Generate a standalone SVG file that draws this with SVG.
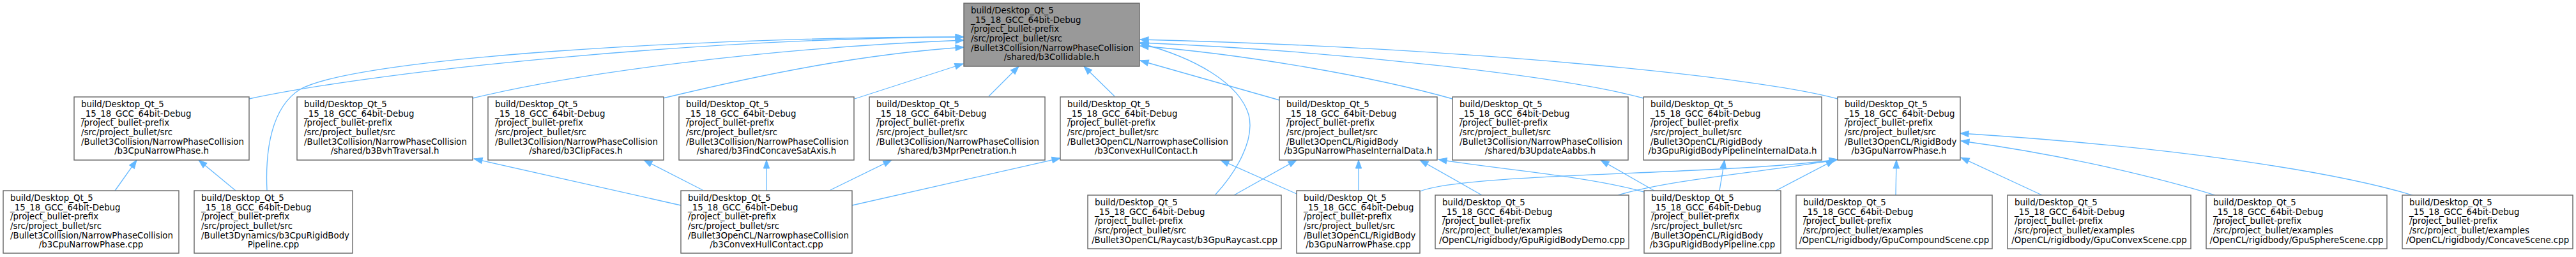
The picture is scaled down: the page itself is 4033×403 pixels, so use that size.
<svg xmlns="http://www.w3.org/2000/svg" width="4033" height="403" viewBox="0 0 4033 403">
<defs>
<style>
.n rect{fill:#ffffff;stroke:#666666;stroke-width:1.4}
.r rect{fill:#999999;stroke:#666666;stroke-width:1.4}
text{font-family:"DejaVu Sans","Liberation Sans",sans-serif;font-size:13.33px;fill:#000000}
.c{text-anchor:middle}
.e path{fill:none;stroke:#63b8ff;stroke-width:1.3;marker-end:url(#a)}
</style>
<marker id="a" markerUnits="userSpaceOnUse" markerWidth="14" markerHeight="10" refX="13" refY="4.7" orient="auto" overflow="visible">
<path d="M0,0 L13,4.7 L0,9.4 Z" fill="#63b8ff" stroke="#63b8ff" stroke-width="1"/>
</marker>
</defs>
<rect width="4033" height="403" fill="#ffffff"/>
<g class="e" id="edges">
<path d="M180,299 L214,251"/>
<path d="M369,299 L311,251"/>
<path d="M418,299 C415,235 425,168 470,140 C560,90 1100,58 1509,58"/>
<path d="M390,155 C600,110 1100,60 1509,58"/>
<path d="M740,154 C900,115 1200,75 1509,63"/>
<path d="M1038,154 C1200,115 1350,85 1509,74"/>
<path d="M1338,155 L1508,100"/>
<path d="M1548,151 L1595,104"/>
<path d="M1745,151 L1697,104"/>
<path d="M1903,305 C1935,270 1965,220 1955,180 C1940,130 1870,90 1785,68"/>
<path d="M2003,157 L1785,95"/>
<path d="M2274,155 C2150,120 1950,85 1785,72"/>
<path d="M2573,154 C2450,120 2100,80 1785,67"/>
<path d="M2877,155 C2750,120 2300,75 1785,62"/>
<path d="M1066,322 L742,249"/>
<path d="M1100,298 L1008,251"/>
<path d="M1200,299 L1200,251"/>
<path d="M1300,298 L1396,251"/>
<path d="M1334,322 L1660,248"/>
<path d="M2030,304 L1911,251"/>
<path d="M1932,306 L2030,251"/>
<path d="M2127,299 L2127,251"/>
<path d="M2320,306 L2223,251"/>
<path d="M2574,301 C2480,275 2340,265 2252,250"/>
<path d="M2590,299 L2506,251"/>
<path d="M2692,299 L2700,251"/>
<path d="M2223,300 C2300,270 2700,275 2877,250"/>
<path d="M2533,306 C2620,280 2780,268 2877,250"/>
<path d="M2780,299 L2872,251"/>
<path d="M2968,306 L2969,251"/>
<path d="M3197,306 L3070,247"/>
<path d="M3468,306 C3400,285 3250,245 3070,221"/>
<path d="M3777,306 C3650,268 3400,230 3069,209"/>
</g>
<g id="root" class="r"><rect x="1509" y="5" width="275" height="99"/><text><tspan x="1520" y="21">build/Desktop_Qt_5</tspan><tspan x="1520" y="35.7">_15_18_GCC_64bit-Debug</tspan><tspan x="1520" y="50.3">/project_bullet-prefix</tspan><tspan x="1520" y="65">/src/project_bullet/src</tspan><tspan x="1520" y="79.7">/Bullet3Collision/NarrowPhaseCollision</tspan><tspan class="c" x="1646.5" y="94.3">/shared/b3Collidable.h</tspan></text></g>
<g id="n1" class="n"><rect x="116" y="152" width="274" height="99"/><text><tspan x="127" y="168">build/Desktop_Qt_5</tspan><tspan x="127" y="182.7">_15_18_GCC_64bit-Debug</tspan><tspan x="127" y="197.3">/project_bullet-prefix</tspan><tspan x="127" y="212">/src/project_bullet/src</tspan><tspan x="127" y="226.7">/Bullet3Collision/NarrowPhaseCollision</tspan><tspan class="c" x="253" y="241.3">/b3CpuNarrowPhase.h</tspan></text></g>
<g id="n2" class="n"><rect x="465" y="152" width="275" height="99"/><text><tspan x="476" y="168">build/Desktop_Qt_5</tspan><tspan x="476" y="182.7">_15_18_GCC_64bit-Debug</tspan><tspan x="476" y="197.3">/project_bullet-prefix</tspan><tspan x="476" y="212">/src/project_bullet/src</tspan><tspan x="476" y="226.7">/Bullet3Collision/NarrowPhaseCollision</tspan><tspan class="c" x="602.5" y="241.3">/shared/b3BvhTraversal.h</tspan></text></g>
<g id="n3" class="n"><rect x="764" y="152" width="275" height="99"/><text><tspan x="775" y="168">build/Desktop_Qt_5</tspan><tspan x="775" y="182.7">_15_18_GCC_64bit-Debug</tspan><tspan x="775" y="197.3">/project_bullet-prefix</tspan><tspan x="775" y="212">/src/project_bullet/src</tspan><tspan x="775" y="226.7">/Bullet3Collision/NarrowPhaseCollision</tspan><tspan class="c" x="901.5" y="241.3">/shared/b3ClipFaces.h</tspan></text></g>
<g id="n4" class="n"><rect x="1063" y="152" width="274" height="99"/><text><tspan x="1074" y="168">build/Desktop_Qt_5</tspan><tspan x="1074" y="182.7">_15_18_GCC_64bit-Debug</tspan><tspan x="1074" y="197.3">/project_bullet-prefix</tspan><tspan x="1074" y="212">/src/project_bullet/src</tspan><tspan x="1074" y="226.7">/Bullet3Collision/NarrowPhaseCollision</tspan><tspan class="c" x="1200" y="241.3">/shared/b3FindConcaveSatAxis.h</tspan></text></g>
<g id="n5" class="n"><rect x="1361" y="152" width="275" height="99"/><text><tspan x="1372" y="168">build/Desktop_Qt_5</tspan><tspan x="1372" y="182.7">_15_18_GCC_64bit-Debug</tspan><tspan x="1372" y="197.3">/project_bullet-prefix</tspan><tspan x="1372" y="212">/src/project_bullet/src</tspan><tspan x="1372" y="226.7">/Bullet3Collision/NarrowPhaseCollision</tspan><tspan class="c" x="1498.5" y="241.3">/shared/b3MprPenetration.h</tspan></text></g>
<g id="n6" class="n"><rect x="1660" y="152" width="269" height="99"/><text><tspan x="1671" y="168">build/Desktop_Qt_5</tspan><tspan x="1671" y="182.7">_15_18_GCC_64bit-Debug</tspan><tspan x="1671" y="197.3">/project_bullet-prefix</tspan><tspan x="1671" y="212">/src/project_bullet/src</tspan><tspan x="1671" y="226.7">/Bullet3OpenCL/NarrowphaseCollision</tspan><tspan class="c" x="1794.5" y="241.3">/b3ConvexHullContact.h</tspan></text></g>
<g id="n7" class="n"><rect x="2003" y="152" width="247" height="99"/><text><tspan x="2014" y="168">build/Desktop_Qt_5</tspan><tspan x="2014" y="182.7">_15_18_GCC_64bit-Debug</tspan><tspan x="2014" y="197.3">/project_bullet-prefix</tspan><tspan x="2014" y="212">/src/project_bullet/src</tspan><tspan x="2014" y="226.7">/Bullet3OpenCL/RigidBody</tspan><tspan class="c" x="2126.5" y="241.3">/b3GpuNarrowPhaseInternalData.h</tspan></text></g>
<g id="n8" class="n"><rect x="2274" y="152" width="275" height="99"/><text><tspan x="2285" y="168">build/Desktop_Qt_5</tspan><tspan x="2285" y="182.7">_15_18_GCC_64bit-Debug</tspan><tspan x="2285" y="197.3">/project_bullet-prefix</tspan><tspan x="2285" y="212">/src/project_bullet/src</tspan><tspan x="2285" y="226.7">/Bullet3Collision/NarrowPhaseCollision</tspan><tspan class="c" x="2411.5" y="241.3">/shared/b3UpdateAabbs.h</tspan></text></g>
<g id="n9" class="n"><rect x="2573" y="152" width="279" height="99"/><text><tspan x="2584" y="168">build/Desktop_Qt_5</tspan><tspan x="2584" y="182.7">_15_18_GCC_64bit-Debug</tspan><tspan x="2584" y="197.3">/project_bullet-prefix</tspan><tspan x="2584" y="212">/src/project_bullet/src</tspan><tspan x="2584" y="226.7">/Bullet3OpenCL/RigidBody</tspan><tspan class="c" x="2712.5" y="241.3">/b3GpuRigidBodyPipelineInternalData.h</tspan></text></g>
<g id="n10" class="n"><rect x="2877" y="152" width="192" height="99"/><text><tspan x="2888" y="168">build/Desktop_Qt_5</tspan><tspan x="2888" y="182.7">_15_18_GCC_64bit-Debug</tspan><tspan x="2888" y="197.3">/project_bullet-prefix</tspan><tspan x="2888" y="212">/src/project_bullet/src</tspan><tspan x="2888" y="226.7">/Bullet3OpenCL/RigidBody</tspan><tspan class="c" x="2973" y="241.3">/b3GpuNarrowPhase.h</tspan></text></g>
<g id="m1" class="n"><rect x="5" y="299" width="275" height="98"/><text><tspan x="16" y="315">build/Desktop_Qt_5</tspan><tspan x="16" y="329.7">_15_18_GCC_64bit-Debug</tspan><tspan x="16" y="344.3">/project_bullet-prefix</tspan><tspan x="16" y="359">/src/project_bullet/src</tspan><tspan x="16" y="373.7">/Bullet3Collision/NarrowPhaseCollision</tspan><tspan class="c" x="142.5" y="388.3">/b3CpuNarrowPhase.cpp</tspan></text></g>
<g id="m2" class="n"><rect x="304" y="299" width="248" height="98"/><text><tspan x="315" y="315">build/Desktop_Qt_5</tspan><tspan x="315" y="329.7">_15_18_GCC_64bit-Debug</tspan><tspan x="315" y="344.3">/project_bullet-prefix</tspan><tspan x="315" y="359">/src/project_bullet/src</tspan><tspan x="315" y="373.7">/Bullet3Dynamics/b3CpuRigidBody</tspan><tspan class="c" x="428" y="388.3">Pipeline.cpp</tspan></text></g>
<g id="m3" class="n"><rect x="1066" y="299" width="268" height="98"/><text><tspan x="1077" y="315">build/Desktop_Qt_5</tspan><tspan x="1077" y="329.7">_15_18_GCC_64bit-Debug</tspan><tspan x="1077" y="344.3">/project_bullet-prefix</tspan><tspan x="1077" y="359">/src/project_bullet/src</tspan><tspan x="1077" y="373.7">/Bullet3OpenCL/NarrowphaseCollision</tspan><tspan class="c" x="1200" y="388.3">/b3ConvexHullContact.cpp</tspan></text></g>
<g id="m4" class="n"><rect x="1703" y="306" width="303" height="84"/><text><tspan x="1714" y="322">build/Desktop_Qt_5</tspan><tspan x="1714" y="336.7">_15_18_GCC_64bit-Debug</tspan><tspan x="1714" y="351.3">/project_bullet-prefix</tspan><tspan x="1714" y="366">/src/project_bullet/src</tspan><tspan class="c" x="1854.5" y="380.7">/Bullet3OpenCL/Raycast/b3GpuRaycast.cpp</tspan></text></g>
<g id="m5" class="n"><rect x="2030" y="299" width="193" height="98"/><text><tspan x="2041" y="315">build/Desktop_Qt_5</tspan><tspan x="2041" y="329.7">_15_18_GCC_64bit-Debug</tspan><tspan x="2041" y="344.3">/project_bullet-prefix</tspan><tspan x="2041" y="359">/src/project_bullet/src</tspan><tspan x="2041" y="373.7">/Bullet3OpenCL/RigidBody</tspan><tspan class="c" x="2126.5" y="388.3">/b3GpuNarrowPhase.cpp</tspan></text></g>
<g id="m6" class="n"><rect x="2247" y="306" width="303" height="84"/><text><tspan x="2258" y="322">build/Desktop_Qt_5</tspan><tspan x="2258" y="336.7">_15_18_GCC_64bit-Debug</tspan><tspan x="2258" y="351.3">/project_bullet-prefix</tspan><tspan x="2258" y="366">/src/project_bullet/examples</tspan><tspan class="c" x="2398.5" y="380.7">/OpenCL/rigidbody/GpuRigidBodyDemo.cpp</tspan></text></g>
<g id="m7" class="n"><rect x="2574" y="299" width="214" height="98"/><text><tspan x="2585" y="315">build/Desktop_Qt_5</tspan><tspan x="2585" y="329.7">_15_18_GCC_64bit-Debug</tspan><tspan x="2585" y="344.3">/project_bullet-prefix</tspan><tspan x="2585" y="359">/src/project_bullet/src</tspan><tspan x="2585" y="373.7">/Bullet3OpenCL/RigidBody</tspan><tspan class="c" x="2681" y="388.3">/b3GpuRigidBodyPipeline.cpp</tspan></text></g>
<g id="m8" class="n"><rect x="2812" y="306" width="307" height="84"/><text><tspan x="2823" y="322">build/Desktop_Qt_5</tspan><tspan x="2823" y="336.7">_15_18_GCC_64bit-Debug</tspan><tspan x="2823" y="351.3">/project_bullet-prefix</tspan><tspan x="2823" y="366">/src/project_bullet/examples</tspan><tspan class="c" x="2965.5" y="380.7">/OpenCL/rigidbody/GpuCompoundScene.cpp</tspan></text></g>
<g id="m9" class="n"><rect x="3143" y="306" width="287" height="84"/><text><tspan x="3154" y="322">build/Desktop_Qt_5</tspan><tspan x="3154" y="336.7">_15_18_GCC_64bit-Debug</tspan><tspan x="3154" y="351.3">/project_bullet-prefix</tspan><tspan x="3154" y="366">/src/project_bullet/examples</tspan><tspan class="c" x="3286.5" y="380.7">/OpenCL/rigidbody/GpuConvexScene.cpp</tspan></text></g>
<g id="m10" class="n"><rect x="3454" y="306" width="283" height="84"/><text><tspan x="3465" y="322">build/Desktop_Qt_5</tspan><tspan x="3465" y="336.7">_15_18_GCC_64bit-Debug</tspan><tspan x="3465" y="351.3">/project_bullet-prefix</tspan><tspan x="3465" y="366">/src/project_bullet/examples</tspan><tspan class="c" x="3595.5" y="380.7">/OpenCL/rigidbody/GpuSphereScene.cpp</tspan></text></g>
<g id="m11" class="n"><rect x="3761" y="306" width="267" height="84"/><text><tspan x="3772" y="322">build/Desktop_Qt_5</tspan><tspan x="3772" y="336.7">_15_18_GCC_64bit-Debug</tspan><tspan x="3772" y="351.3">/project_bullet-prefix</tspan><tspan x="3772" y="366">/src/project_bullet/examples</tspan><tspan class="c" x="3894.5" y="380.7">/OpenCL/rigidbody/ConcaveScene.cpp</tspan></text></g>
</svg>
